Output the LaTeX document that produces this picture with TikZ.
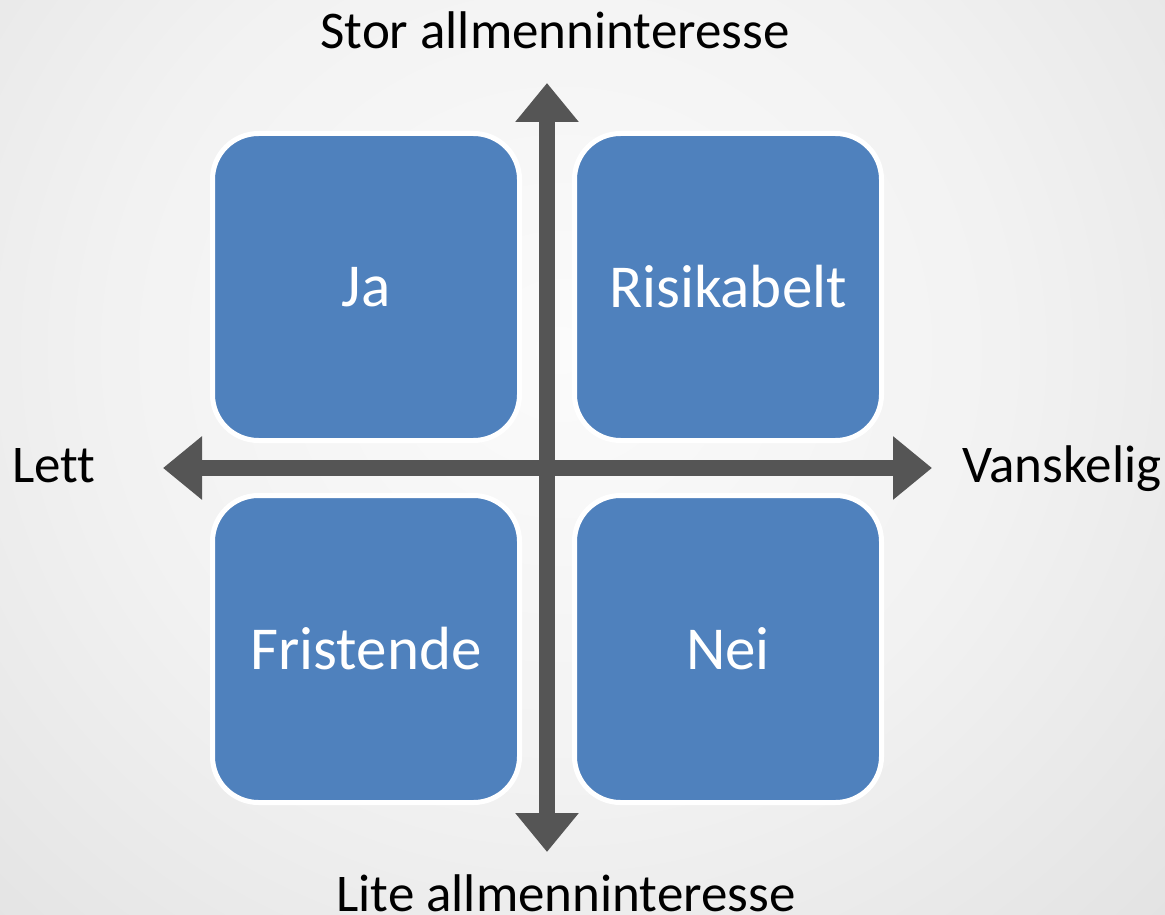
\documentclass[tikz,border=0pt]{standalone}
\usepackage{fontspec}
\setmainfont{Carlito}[Ligatures=NoCommon]
\usetikzlibrary{arrows.meta}
\definecolor{boxblue}{HTML}{4F81BD}
\definecolor{axisgray}{HTML}{555555}
\definecolor{bgA}{HTML}{FBFBFB}
\definecolor{bgB}{HTML}{F2F2F2}
\definecolor{bgC}{HTML}{E4E4E4}
\definecolor{bgD}{HTML}{D2D2D2}
\definecolor{bgE}{HTML}{B3B3B3}
\pgfdeclareradialshading{bgshade}{\pgfpoint{0bp}{0bp}}{%
  color(0bp)=(bgA); color(18bp)=(bgB); color(33bp)=(bgC); color(50bp)=(bgD); color(70bp)=(bgE)}
\tikzset{
  quad/.style={draw=white, line width=5pt, fill=boxblue, rounded corners=46pt,
    minimum width=307pt, minimum height=307pt, inner sep=0pt, text=white,
    font=\fontsize{61}{68}\selectfont},
  axislabel/.style={inner sep=0pt, anchor=base, text=black,
    font=\fontsize{53}{60}\selectfont},
  axisline/.style={axisgray, line width=16pt,
    {Triangle[width=61pt,length=39pt]}-{Triangle[width=61pt,length=39pt]}}
}
\begin{document}
\begin{tikzpicture}[x=1pt,y=-1pt]
  \useasboundingbox (0,0) rectangle (1165,915);
  \begin{scope}
    \clip (0,0) rectangle (1165,915);
    \shade[shading=bgshade] (-60,-250) rectangle (1180,950);
  \end{scope}
  % boxes
  \node[quad] (ja)   at (366,287) {Ja};
  \node[quad] (risk) at (728,287) {Risikabelt};
  \node[quad] (fri)  at (366,649) {Fristende};
  \node[quad] (nei)  at (728,649) {Nei};
  % axes
  \coordinate (vtop) at (547,83);
  \coordinate (vbot) at (547,852);
  \coordinate (hleft) at (163,468);
  \coordinate (hright) at (932,468);
  \draw[axisline] (vbot) -- (vtop);
  \draw[axisline] (hleft) -- (hright);
  % labels
  \node[axislabel] (stor) at (555,49) {Stor allmenninteresse};
  \node[axislabel] (lite) at (566,911) {Lite allmenninteresse};
  \node[axislabel] (lett) at (54,482) {Lett};
  \node[axislabel] (vansk) at (1062,482) {Vanskelig};
\end{tikzpicture}
\end{document}
